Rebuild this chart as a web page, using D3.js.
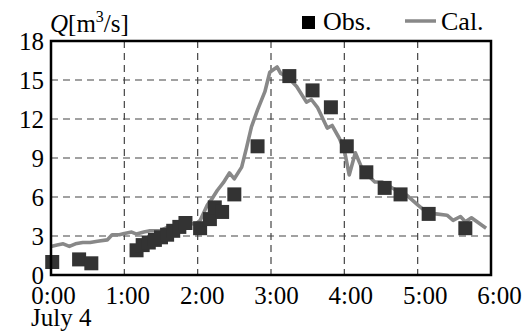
<!DOCTYPE html>
<html lang="en">
<head>
    <meta charset="UTF-8">
    <title>Discharge hydrograph</title>
    <script src="https://d3js.org/d3.v7.min.js"></script>
    <style>
        body { margin: 0; background: #fff; }
        svg text { font-family: "Liberation Serif", "Times New Roman", Times, "DejaVu Serif", serif !important; fill: #000; }
    </style>
</head>
<body>
    <svg id="chart" width="528" height="336" font-family="Liberation Serif, serif"></svg>
    <script>
        // observed discharge: minutes after 0:00 (July 4), Q [m3/s]
        const obsTime = [1, 23, 33, 70, 75, 80, 85, 90, 95, 100, 105, 110, 122, 130, 134, 140, 150,
                         169, 195, 214, 229, 242, 258, 273, 286, 309, 339];
        const obsQ    = [1.0, 1.2, 0.9, 1.9, 2.3, 2.5, 2.7, 2.9, 3.1, 3.4, 3.7, 4.0, 3.6, 4.3, 5.2, 4.85, 6.2,
                         9.9, 15.3, 14.2, 12.9, 9.9, 7.9, 6.7, 6.2, 4.7, 3.6];

        // calculated discharge
        const calTime = [0, 5, 10, 15, 20, 26, 32, 38, 46, 50, 56, 60, 66, 70, 76, 81, 89, 96, 100, 106,
                         112, 118, 122, 128, 132, 136, 141, 146, 150, 156, 160, 164, 169, 175, 179, 185,
                         188, 194, 201, 209, 213, 218, 226, 230, 236, 240, 244, 249, 254, 260, 265, 271,
                         281, 291, 300, 307, 315, 324, 329, 335, 339, 344, 350, 356];
        const calQ    = [2.2, 2.3, 2.4, 2.2, 2.4, 2.5, 2.5, 2.6, 2.7, 3.1, 3.1, 3.2, 3.3, 3.15, 3.3, 3.4, 3.4, 3.7, 3.5, 3.8,
                         4.0, 3.9, 4.2, 5.4, 5.9, 6.5, 7.1, 7.85, 7.4, 8.3, 9.8, 11.4, 12.7, 14.1, 15.6, 16.0,
                         15.5, 15.2, 14.5, 13.3, 13.5, 12.9, 11.3, 11.5, 10.5, 9.6, 7.7, 9.4, 8.3, 7.6, 7.15, 7.15,
                         6.6, 6.15, 5.4, 4.85, 4.7, 4.6, 4.2, 4.5, 4.1, 4.4, 4.0, 3.6];

        const yTicks = [0, 3, 6, 9, 12, 15, 18];
        const xTicks = [0, 60, 120, 180, 240, 300, 360];
        const xTickLabels = ["0:00", "1:00", "2:00", "3:00", "4:00", "5:00", "6:00"];

        const svg = d3.select("#chart");
        const x = d3.scaleLinear().domain([0, 360]).range([51, 491]);
        const xLab = d3.scaleLinear().domain([0, 360]).range([53.5, 499.5]);
        const y = d3.scaleLinear().domain([0, 18]).range([275, 41]);

        // grid
        const grid = svg.append("g").attr("stroke", "#444").attr("stroke-width", 1.2)
            .attr("stroke-dasharray", "7,5");
        grid.selectAll(".gy").data(yTicks.filter(d => d > 0 && d < 18)).enter().append("line")
            .attr("x1", x(0)).attr("x2", x(360)).attr("y1", d => y(d)).attr("y2", d => y(d));
        grid.selectAll(".gx").data(xTicks.filter(d => d > 0 && d < 360)).enter().append("line")
            .attr("y1", y(18)).attr("y2", y(0)).attr("x1", d => x(d)).attr("x2", d => x(d));

        // calculated line
        const calData = calTime.map((t, i) => [t, calQ[i]]);
        svg.append("path").datum(calData)
            .attr("fill", "none").attr("stroke", "#888").attr("stroke-width", 3.6)
            .attr("stroke-linejoin", "round")
            .attr("d", d3.line().x(d => x(d[0])).y(d => y(d[1])));

        // observed squares
        const s = 14;
        const obsData = obsTime.map((t, i) => [t, obsQ[i]]);
        svg.append("g").selectAll("rect").data(obsData).enter().append("rect")
            .attr("x", d => x(d[0]) - s / 2).attr("y", d => y(d[1]) - s / 2)
            .attr("width", s).attr("height", s).attr("fill", "#333");

        // frame
        svg.append("rect").attr("x", x(0)).attr("y", y(18))
            .attr("width", x(360) - x(0)).attr("height", y(0) - y(18))
            .attr("fill", "none").attr("stroke", "#000").attr("stroke-width", 2.5);

        // y axis labels
        const yAxis = d3.axisLeft(y).tickValues(yTicks).tickSize(0).tickPadding(7);
        svg.append("g").attr("transform", `translate(${x(0)},0)`).call(yAxis)
            .attr("font-family", null)
            .call(g => g.select(".domain").remove())
            .selectAll("text").style("font-size", "25px").attr("fill", "#000");

        // x axis labels
        svg.append("g").selectAll("text").data(xTicks).enter().append("text")
            .attr("x", d => xLab(d)).attr("y", 304)
            .attr("text-anchor", "middle").style("font-size", "25px")
            .text((d, i) => xTickLabels[i]);
        svg.append("text").attr("x", 31).attr("y", 326).style("font-size", "25px").text("July 4");

        // y title
        const title = svg.append("text").attr("x", 50).attr("y", 32).style("font-size", "25px");
        title.append("tspan").style("font-style", "italic").text("Q");
        title.append("tspan").text("[m");
        title.append("tspan").attr("dy", -10).style("font-size", "16px").text("3");
        title.append("tspan").attr("dy", 10).text("/s]");

        // legend
        svg.append("rect").attr("x", 302).attr("y", 16).attr("width", 13).attr("height", 13).attr("fill", "#000");
        svg.append("text").attr("x", 323).attr("y", 30).style("font-size", "26px").text("Obs.");
        svg.append("line").attr("x1", 405).attr("x2", 436).attr("y1", 21).attr("y2", 21)
            .attr("stroke", "#888").attr("stroke-width", 3.5);
        svg.append("text").attr("x", 441).attr("y", 30).style("font-size", "26px").text("Cal.");
    </script>
</body>
</html>
